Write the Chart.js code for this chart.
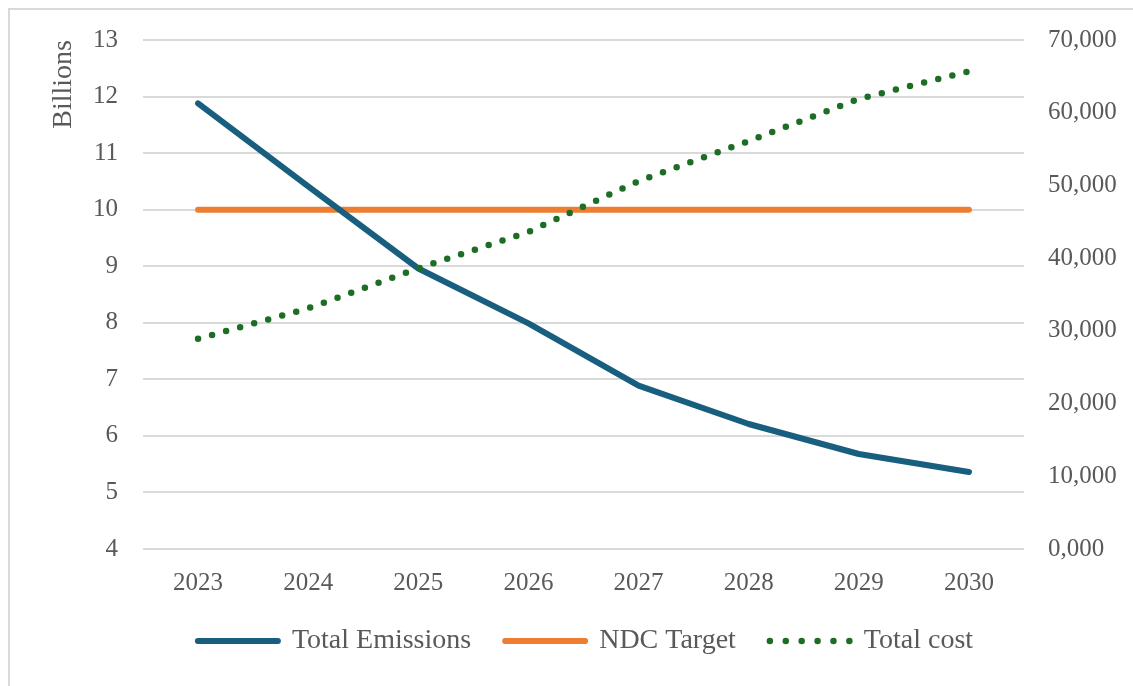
<!DOCTYPE html>
<html>
<head>
<meta charset="utf-8">
<script src="https://cdn.jsdelivr.net/npm/chart.js@4.4.1/dist/chart.umd.min.js"></script>
<style>
  html, body { margin: 0; padding: 0; background: #ffffff; overflow: hidden; }
  #wrap { position: relative; width: 1133px; height: 686px; }
  #frame { position: absolute; left: 8px; top: 8px; width: 1200px; height: 800px;
           border: 2px solid #d9d9d9; box-sizing: border-box; }
  #c { position: absolute; left: 0; top: 0; }
</style>
</head>
<body>
<div id="wrap">
  <div id="frame"></div>
  <canvas id="c" width="1133" height="686"></canvas>
</div>
<script>
// Years on the horizontal axis
const years = ['2023', '2024', '2025', '2026', '2027', '2028', '2029', '2030'];

// Emissions, in billions (left axis)
const totalEmissions = [11.88, 10.41, 8.96, 7.99, 6.89, 6.21, 5.68, 5.36];

// NDC target, in billions (left axis)
const ndcTarget = [10, 10, 10, 10, 10, 10, 10, 10];

// Total cost (right axis)
const totalCost = [28900, 33100, 38600, 43600, 50600, 56100, 61900, 65700];

// Right axis tick labels, from 0 up to 70,000
const costTickLabels = ['0,000', '10,000', '20,000', '30,000', '40,000', '50,000', '60,000', '70,000'];

const FONT_FAMILY = "'Liberation Serif', 'DejaVu Serif', serif";
const TEXT_COLOR = '#595959';
const GRID_COLOR = '#d9d9d9';

Chart.defaults.font.family = FONT_FAMILY;
Chart.defaults.color = TEXT_COLOR;

new Chart(document.getElementById('c'), {
  type: 'line',
  data: {
    labels: years,
    datasets: [
      {
        label: 'Total Emissions',
        data: totalEmissions,
        yAxisID: 'y',
        borderColor: '#185f7f',
        backgroundColor: '#185f7f',
        borderWidth: 6,
        borderCapStyle: 'round',
        borderJoinStyle: 'round',
        pointRadius: 0,
        tension: 0,
        order: 1
      },
      {
        label: 'NDC Target',
        data: ndcTarget,
        yAxisID: 'y',
        borderColor: '#ed7d31',
        backgroundColor: '#ed7d31',
        borderWidth: 6,
        borderCapStyle: 'round',
        borderJoinStyle: 'round',
        pointRadius: 0,
        tension: 0,
        order: 2
      },
      {
        label: 'Total cost',
        data: totalCost,
        yAxisID: 'y1',
        borderColor: '#1d6e25',
        backgroundColor: '#1d6e25',
        borderWidth: 6.5,
        borderCapStyle: 'round',
        borderJoinStyle: 'round',
        borderDash: [0, 14.55],
        pointRadius: 0,
        tension: 0,
        order: 0
      }
    ]
  },
  options: {
    responsive: false,
    animation: false,
    events: [],
    devicePixelRatio: 1,
    layout: { padding: { left: 38, right: 0, top: 29, bottom: 21 } },
    plugins: {
      tooltip: { enabled: false },
      legend: {
        display: true,
        position: 'bottom',
        labels: {
          usePointStyle: true,
          pointStyleWidth: 80,
          boxHeight: 10,
          padding: 34,
          color: TEXT_COLOR,
          font: { size: 28, family: FONT_FAMILY },
          generateLabels(chart) {
            return chart.data.datasets.map((ds, i) => ({
              text: ds.label,
              fillStyle: ds.borderColor,
              strokeStyle: ds.borderColor,
              lineWidth: ds.borderWidth,
              lineCap: 'round',
              lineDash: ds.borderDash ? [0, 15.9] : [],
              pointStyle: 'line',
              fontColor: TEXT_COLOR,
              hidden: false,
              datasetIndex: i
            }));
          }
        }
      }
    },
    scales: {
      x: {
        offset: true,
        grid: { display: false, drawTicks: false },
        border: { display: false },
        ticks: { padding: 19, color: TEXT_COLOR, font: { size: 25 } },
        afterFit(scale) { scale.height = 44; }
      },
      y: {
        position: 'left',
        min: 4,
        max: 13,
        ticks: { stepSize: 1, padding: 25, color: TEXT_COLOR, font: { size: 25 } },
        grid: { color: GRID_COLOR, lineWidth: 2, drawTicks: false },
        border: { display: false },
        title: {
          display: true,
          text: 'Billions',
          align: 'end',
          color: TEXT_COLOR,
          font: { size: 28 },
          padding: { top: 9, bottom: 0 }
        },
        afterFit(scale) { scale.width = 105; }
      },
      y1: {
        position: 'right',
        min: 0,
        max: 70000,
        ticks: {
          stepSize: 10000,
          padding: 24,
          color: TEXT_COLOR,
          font: { size: 25 },
          callback: (value, index) => costTickLabels[index]
        },
        grid: { drawOnChartArea: false, drawTicks: false },
        border: { display: false },
        afterFit(scale) { scale.width = 109; }
      }
    }
  }
});
</script>
</body>
</html>
